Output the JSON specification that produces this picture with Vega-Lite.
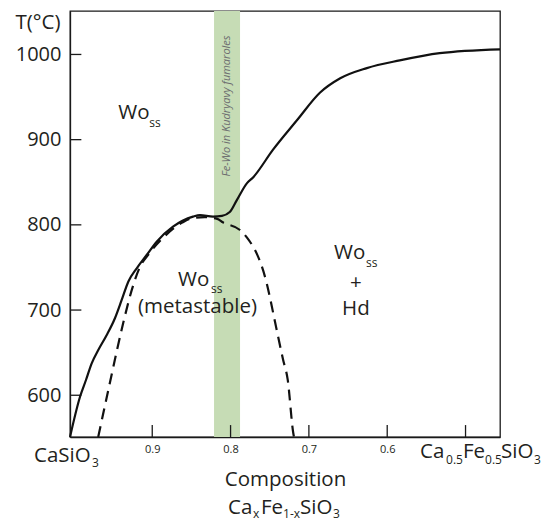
{
  "$schema": "https://vega.github.io/schema/vega-lite/v6.json",
  "width": 430,
  "height": 426,
  "autosize": {"type": "none"},
  "padding": {"left": 70, "top": 11, "right": 44, "bottom": 84},
  "background": "white",
  "config": {
    "view": {"stroke": "#1a1a1a", "strokeWidth": 1.3},
    "font": "Open Sans",
    "axis": {"grid": false, "domainColor": "#1a1a1a", "domainWidth": 1.3, "labelFont": "Open Sans", "titleFont": "Open Sans", "labelColor": "#231f20", "titleColor": "#231f20", "titleFontWeight": "normal"}
  },
  "datasets": {
    "band": [{"x": 0.8211, "x2": 0.7879, "y": 551, "y2": 1051}],
    "ticks": [
      {"t": "y600", "x": 1.005, "y": 600}, {"t": "y600", "x": 0.9905, "y": 600},
      {"t": "y700", "x": 1.005, "y": 700}, {"t": "y700", "x": 0.9905, "y": 700},
      {"t": "y800", "x": 1.005, "y": 800}, {"t": "y800", "x": 0.9905, "y": 800},
      {"t": "y900", "x": 1.005, "y": 900}, {"t": "y900", "x": 0.9905, "y": 900},
      {"t": "y1000", "x": 1.005, "y": 1000}, {"t": "y1000", "x": 0.9905, "y": 1000},
      {"t": "x0.9", "x": 0.9, "y": 551}, {"t": "x0.9", "x": 0.9, "y": 565},
      {"t": "x0.8", "x": 0.8, "y": 551}, {"t": "x0.8", "x": 0.8, "y": 565},
      {"t": "x0.7", "x": 0.7, "y": 551}, {"t": "x0.7", "x": 0.7, "y": 565},
      {"t": "x0.6", "x": 0.6, "y": 551}, {"t": "x0.6", "x": 0.6, "y": 565},
      {"t": "x0.5", "x": 0.5, "y": 551}, {"t": "x0.5", "x": 0.5, "y": 565}
    ],
    "solid": [
      {"x": 1.005, "y": 551}, {"x": 0.9922, "y": 598.3}, {"x": 0.9846, "y": 617.9}, {"x": 0.9773, "y": 637.5},
      {"x": 0.9689, "y": 653.1}, {"x": 0.9581, "y": 670.7}, {"x": 0.9475, "y": 690.7}, {"x": 0.939, "y": 711.8},
      {"x": 0.9306, "y": 733.3}, {"x": 0.9198, "y": 749}, {"x": 0.9071, "y": 764.6}, {"x": 0.8943, "y": 780.2},
      {"x": 0.8735, "y": 797.8}, {"x": 0.848, "y": 809.6}, {"x": 0.839, "y": 811.5}, {"x": 0.8224, "y": 809.6},
      {"x": 0.811, "y": 810.5}, {"x": 0.801, "y": 815}, {"x": 0.792, "y": 829}, {"x": 0.779, "y": 849},
      {"x": 0.771, "y": 856}, {"x": 0.746, "y": 888}, {"x": 0.715, "y": 923}, {"x": 0.686, "y": 955},
      {"x": 0.66, "y": 972}, {"x": 0.626, "y": 984}, {"x": 0.584, "y": 993}, {"x": 0.533, "y": 1001.5},
      {"x": 0.456, "y": 1006}
    ],
    "dashed": [
      {"x": 0.969, "y": 551}, {"x": 0.954, "y": 615}, {"x": 0.945, "y": 653}, {"x": 0.937, "y": 685},
      {"x": 0.926, "y": 724}, {"x": 0.916, "y": 750}, {"x": 0.905, "y": 765}, {"x": 0.886, "y": 785},
      {"x": 0.861, "y": 803}, {"x": 0.848, "y": 808}, {"x": 0.833, "y": 809}, {"x": 0.817, "y": 807},
      {"x": 0.81, "y": 803}, {"x": 0.788, "y": 794}, {"x": 0.779, "y": 785}, {"x": 0.766, "y": 765},
      {"x": 0.76, "y": 751}, {"x": 0.754, "y": 732}, {"x": 0.75, "y": 716}, {"x": 0.743, "y": 685},
      {"x": 0.733, "y": 642}, {"x": 0.727, "y": 618}, {"x": 0.72, "y": 556}, {"x": 0.719, "y": 551}
    ],
    "bandText": [{"x": 0.8045, "y": 939.5, "text": "Fe-Wo in Kudryavy fumaroles"}],
    "mainText": [
      {"x": 0.9434, "y": 924.2, "text": "Wo"},
      {"x": 0.8671, "y": 728.2, "text": "Wo"},
      {"x": 0.9182, "y": 696.5, "text": "(metastable)"},
      {"x": 0.6679, "y": 760.1, "text": "Wo"},
      {"x": 0.6475, "y": 724.7, "text": "+"},
      {"x": 0.6577, "y": 694.2, "text": "Hd"},
      {"x": 1.051, "y": 521.7, "text": "CaSiO"},
      {"x": 0.5581, "y": 526.4, "text": "Ca"},
      {"x": 0.5032, "y": 526.4, "text": "Fe"},
      {"x": 0.4547, "y": 526.4, "text": "SiO"},
      {"x": 0.8033, "y": 460.6, "text": "Ca"},
      {"x": 0.7611, "y": 460.6, "text": "Fe"},
      {"x": 0.7113, "y": 460.6, "text": "SiO"}
    ],
    "subText": [
      {"x": 0.9038, "y": 914.9, "text": "ss"},
      {"x": 0.825, "y": 720.0, "text": "ss"},
      {"x": 0.627, "y": 750.5, "text": "ss"},
      {"x": 0.9769, "y": 515.8, "text": "3"},
      {"x": 0.5249, "y": 519.3, "text": "0.5"},
      {"x": 0.4751, "y": 519.3, "text": "0.5"},
      {"x": 0.4126, "y": 519.3, "text": "3"},
      {"x": 0.7713, "y": 455.5, "text": "x"},
      {"x": 0.733, "y": 455.5, "text": "1-x"},
      {"x": 0.6692, "y": 455.5, "text": "3"}
    ]
  },
  "encoding": {
    "x": {
      "field": "x", "type": "quantitative",
      "scale": {"domain": [0.456, 1.005], "reverse": true, "nice": false, "zero": false},
      "axis": {
        "title": "Composition", "titleFontSize": 20.5, "titleY": 48, "titleBaseline": "alphabetic",
        "values": [0.9, 0.8, 0.7, 0.6, 0.5],
        "labelExpr": "datum.value < 0.55 ? '' : format(datum.value, '.1f')",
        "labelFontSize": 11, "ticks": false, "labelPadding": 6
      }
    },
    "y": {
      "field": "y", "type": "quantitative",
      "scale": {"domain": [551, 1051], "nice": false, "zero": false},
      "axis": {
        "title": "T(°C)", "titleFontSize": 20.5, "titleAngle": 0, "titleAlign": "right",
        "titleBaseline": "middle", "titleX": -10, "titleY": 11, "format": "d",
        "values": [600, 700, 800, 900, 1000], "labelFontSize": 20,
        "ticks": false, "labelPadding": 9
      }
    }
  },
  "layer": [
    {
      "data": {"name": "band"},
      "mark": {"type": "rect", "color": "#c6dcb5"},
      "encoding": {"x2": {"field": "x2"}, "y2": {"field": "y2"}}
    },
    {
      "data": {"name": "ticks"},
      "mark": {"type": "line", "color": "#1a1a1a", "strokeWidth": 1.3},
      "encoding": {"detail": {"field": "t", "type": "nominal"}}
    },
    {
      "data": {"name": "solid"},
      "mark": {"type": "line", "color": "#111", "strokeWidth": 2.2, "interpolate": "monotone"},
      "encoding": {"order": {"field": "x", "sort": "descending"}}
    },
    {
      "data": {"name": "dashed"},
      "mark": {"type": "line", "color": "#111", "strokeWidth": 2.2, "strokeDash": [11, 7], "interpolate": "monotone"},
      "encoding": {"order": {"field": "x", "sort": "descending"}}
    },
    {
      "data": {"name": "bandText"},
      "mark": {"type": "text", "angle": 270, "align": "center", "baseline": "middle", "fontSize": 11, "fontStyle": "italic", "color": "#6d6e70"},
      "encoding": {"text": {"field": "text"}}
    },
    {
      "data": {"name": "mainText"},
      "mark": {"type": "text", "align": "left", "baseline": "alphabetic", "fontSize": 20.5, "color": "#231f20"},
      "encoding": {"text": {"field": "text"}}
    },
    {
      "data": {"name": "subText"},
      "mark": {"type": "text", "align": "left", "baseline": "alphabetic", "fontSize": 12, "color": "#231f20"},
      "encoding": {"text": {"field": "text"}}
    }
  ]
}
